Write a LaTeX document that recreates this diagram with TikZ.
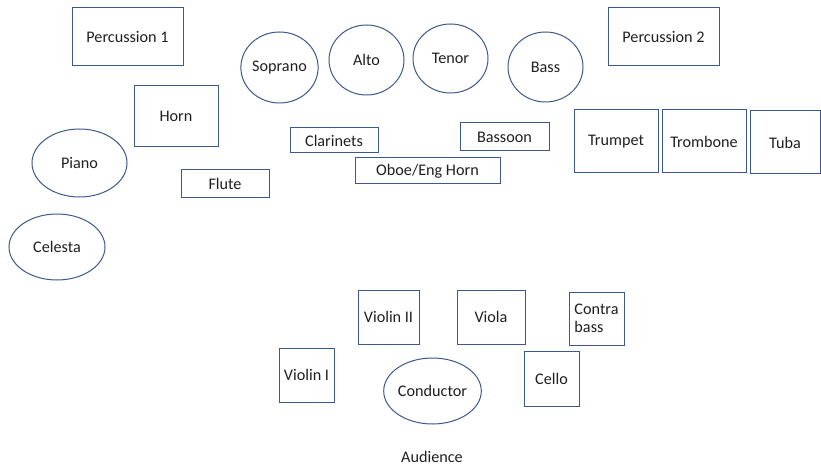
\documentclass[tikz,border=0pt]{standalone}
\usepackage{fontspec}
\setmainfont{Carlito}
\usetikzlibrary{shapes.geometric}
\definecolor{ol}{RGB}{60,88,140}
\tikzset{
  base/.style={draw=ol, line width=1pt, inner sep=0pt, font=\fontsize{16.2}{18.5}\selectfont, text=black!88},
  box/.style={base, rectangle},
  oval/.style={base, ellipse},
}
\begin{document}
\begin{tikzpicture}[x=1pt,y=-1pt]
\useasboundingbox (0,0) rectangle (821,465);
% boxes
\node[box, minimum width=111, minimum height=58] (perc1) at (127.5,37) {Percussion 1};
\node[box, minimum width=84, minimum height=61] (horn) at (176,116.5) {Horn};
\node[box, minimum width=88, minimum height=27] (flute) at (225,183.5) {Flute};
\node[box, minimum width=88, minimum height=25] (clar) at (334,140.5) {Clarinets};
\node[box, minimum width=89, minimum height=28] (bassoon) at (504.5,137) {Bassoon};
\node[box, minimum width=145, minimum height=26] (oboe) at (427.5,171) {Oboe/Eng Horn};
\node[box, minimum width=111, minimum height=58] (perc2) at (663.5,37) {Percussion 2};
\node[box, minimum width=84, minimum height=63] (trumpet) at (616,141.5) {Trumpet};
\node[box, minimum width=84, minimum height=63] (trombone) at (704,141.5) {Trombone};
\node[box, minimum width=70, minimum height=63] (tuba) at (785,142.5) {Tuba};
\node[box, minimum width=61, minimum height=54] (violin2) at (388.5,317) {Violin II};
\node[box, minimum width=68, minimum height=54] (viola) at (491,317) {Viola};
\node[box, minimum width=55, minimum height=53, align=left] (contra) at (596.5,318.5) {Contra\\[-1pt]bass};
\node[box, minimum width=55, minimum height=54] (violin1) at (306.5,375) {Violin I};
\node[box, minimum width=55, minimum height=55] (cello) at (551.5,378.5) {Cello};
% ovals
\node[oval, minimum width=95, minimum height=68] (piano) at (79.5,163) {Piano};
\node[oval, minimum width=96, minimum height=66] (celesta) at (57,247) {Celesta};
\node[oval, minimum width=75, minimum height=71] (soprano) at (279.5,67.5) {Soprano};
\node[oval, minimum width=75, minimum height=70] (alto) at (366.5,60) {Alto};
\node[oval, minimum width=75, minimum height=69] (tenor) at (450.5,58.5) {Tenor};
\node[oval, minimum width=75, minimum height=70] (bass) at (545.5,67) {Bass};
\node[oval, minimum width=97, minimum height=66] (conductor) at (432.5,391) {Conductor};
% audience
\node[base, draw=none, anchor=base] (audience) at (432,462) {Audience};
\end{tikzpicture}
\end{document}
